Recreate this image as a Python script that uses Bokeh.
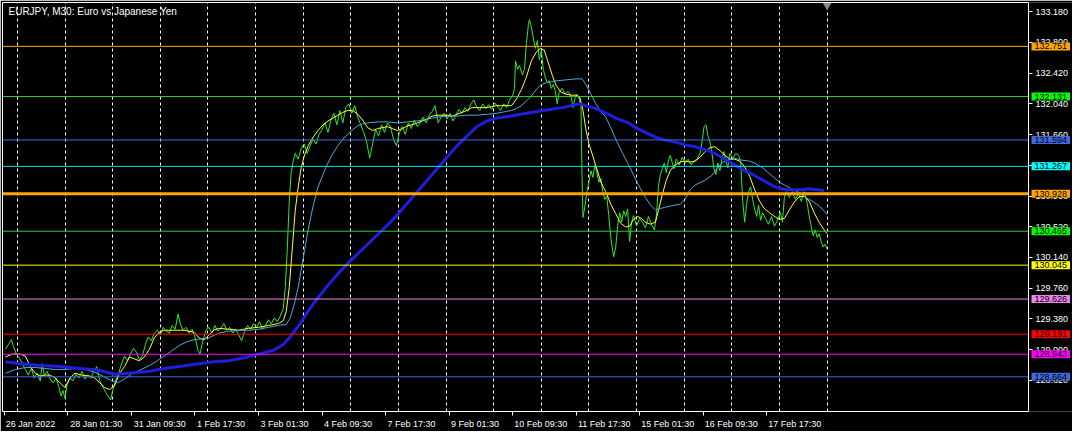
from bokeh.plotting import figure
from bokeh.models import (Range1d, FixedTicker, PrintfTickFormatter, Label,
                          ColumnDataSource, LinearAxis)
from bokeh.embed import file_html
from bokeh.resources import INLINE

chart_title = "EURJPY, M30:  Euro vs Japanese Yen"

# ---- close price (M30 bars, sampled) ----
close_bar = [1, 4, 7, 9, 12, 15, 18, 21, 24, 27, 30, 33, 36, 38, 40, 43, 46, 49, 52, 55, 57, 59, 61, 63, 66, 69, 72, 75, 78, 81, 84, 87, 90, 93, 96, 99, 102, 105, 107, 109, 112, 115, 118, 121, 124, 127, 130, 133, 136, 139, 142, 145, 148, 151, 154, 157, 160, 163, 166, 169, 172, 175, 177, 180, 183, 186, 189, 192, 195, 197, 200, 203, 206, 209, 212, 215, 218, 221, 224, 227, 230, 233, 236, 239, 242, 245, 248, 251, 254, 257, 260, 263, 266, 269, 272, 275, 278, 281, 283, 285, 287, 289, 291, 293, 296, 299, 302, 305, 308, 311, 314, 317, 320, 323, 326, 329, 332, 335, 338, 341, 344, 347, 350, 353, 356, 359, 362, 365, 368, 371, 374, 377, 380, 383, 386, 389, 392, 395, 398, 401, 404, 407, 410, 413, 416, 419, 422, 425, 428, 431, 434, 437, 440, 443, 446, 449, 452, 455, 458, 461, 464, 467, 470, 473, 476, 479, 482, 485, 488, 491, 494, 497, 500, 503, 506, 509, 512, 514, 515, 517, 519, 522, 524, 526, 528, 529, 531, 533, 535, 537, 539, 541, 543, 545, 547, 549, 551, 553, 555, 557, 559, 562, 565, 568, 571, 573, 575, 577, 579, 581, 582, 583, 585, 587, 589, 591, 593, 595, 597, 599, 601, 603, 605, 607, 609, 611, 613, 614, 616, 618, 620, 622, 624, 626, 628, 630, 632, 634, 637, 640, 643, 646, 649, 652, 655, 657, 659, 661, 663, 665, 667, 669, 671, 673, 675, 677, 680, 683, 686, 689, 692, 695, 698, 701, 703, 705, 707, 709, 711, 713, 715, 717, 719, 721, 723, 725, 727, 729, 731, 734, 737, 740, 742, 744, 746, 748, 750, 752, 754, 756, 758, 760, 762, 764, 767, 770, 773, 776, 779, 782, 784, 786, 788, 791, 794, 797, 800, 803, 806, 809, 811, 813, 815, 817, 819, 821, 823, 825, 827, 829]
close_price = [129.004, 129.063, 129.122, 129.039, 128.945, 128.897, 128.826, 128.755, 128.685, 128.767, 128.649, 128.708, 128.614, 128.826, 128.685, 128.732, 128.637, 128.590, 128.649, 128.531, 128.425, 128.495, 128.401, 128.566, 128.649, 128.614, 128.696, 128.649, 128.732, 128.637, 128.685, 128.649, 128.732, 128.791, 128.614, 128.543, 128.472, 128.413, 128.377, 128.495, 128.614, 128.708, 128.826, 128.921, 128.862, 128.945, 129.016, 128.968, 128.874, 128.921, 129.063, 129.157, 129.110, 129.205, 129.240, 129.181, 129.276, 129.228, 129.205, 129.299, 129.252, 129.441, 129.323, 129.240, 129.276, 129.205, 129.252, 129.157, 128.992, 128.945, 129.110, 129.240, 129.276, 129.205, 129.299, 129.228, 129.264, 129.323, 129.240, 129.276, 129.205, 129.252, 129.181, 129.110, 129.228, 129.299, 129.252, 129.323, 129.276, 129.346, 129.252, 129.299, 129.370, 129.323, 129.394, 129.346, 129.417, 129.512, 129.772, 130.245, 130.836, 131.190, 131.332, 131.427, 131.356, 131.486, 131.545, 131.427, 131.521, 131.604, 131.545, 131.663, 131.722, 131.805, 131.687, 131.840, 131.923, 131.781, 131.959, 131.805, 131.994, 132.041, 131.923, 132.018, 131.876, 131.781, 131.687, 131.569, 131.368, 131.545, 131.722, 131.640, 131.781, 131.687, 131.805, 131.758, 131.604, 131.521, 131.687, 131.758, 131.663, 131.805, 131.734, 131.840, 131.758, 131.805, 131.876, 131.805, 131.900, 131.947, 132.018, 131.805, 131.876, 131.923, 131.852, 131.923, 131.829, 131.900, 131.971, 131.923, 131.994, 131.947, 132.041, 132.089, 131.994, 131.959, 132.041, 131.982, 132.030, 131.971, 132.053, 132.006, 131.959, 132.041, 131.994, 132.089, 132.136, 132.231, 132.573, 132.467, 132.514, 132.396, 132.467, 132.786, 133.022, 133.082, 132.987, 132.845, 132.727, 132.822, 132.585, 132.703, 132.467, 132.372, 132.301, 132.325, 132.231, 132.278, 132.207, 132.041, 132.183, 132.231, 132.160, 132.195, 132.136, 131.994, 132.112, 132.160, 132.112, 132.018, 131.190, 130.635, 130.777, 130.954, 131.072, 131.214, 131.131, 131.285, 131.190, 131.072, 131.119, 130.954, 130.859, 130.895, 130.658, 130.387, 130.221, 130.150, 130.268, 130.540, 130.694, 130.576, 130.718, 130.647, 130.741, 130.339, 130.576, 130.658, 130.528, 130.623, 130.576, 130.505, 130.647, 130.552, 130.481, 130.658, 131.013, 131.167, 131.238, 131.309, 131.190, 131.332, 131.403, 131.309, 131.238, 131.356, 131.285, 131.380, 131.309, 131.356, 131.285, 131.332, 131.356, 131.427, 131.569, 131.758, 131.781, 131.640, 131.569, 131.427, 131.238, 131.167, 131.309, 131.214, 131.356, 131.450, 131.332, 131.249, 131.427, 131.368, 131.427, 131.403, 131.309, 130.836, 130.576, 130.812, 130.954, 131.013, 130.859, 130.741, 130.647, 130.789, 130.599, 130.694, 130.623, 130.552, 130.647, 130.528, 130.599, 130.694, 130.576, 130.883, 130.954, 130.883, 130.954, 130.859, 130.930, 130.836, 130.954, 130.812, 130.647, 130.528, 130.410, 130.481, 130.387, 130.434, 130.339, 130.268, 130.304, 130.245]

# ---- fast moving average (yellow) ----
fast_bar = [1, 8, 16, 21, 26, 31, 36, 41, 46, 51, 56, 61, 66, 71, 78, 86, 91, 96, 101, 106, 111, 116, 121, 126, 131, 136, 141, 146, 151, 156, 161, 171, 181, 191, 196, 201, 206, 211, 216, 226, 236, 246, 256, 266, 276, 281, 284, 287, 290, 293, 296, 299, 302, 306, 311, 316, 321, 326, 331, 336, 341, 346, 351, 356, 361, 366, 371, 376, 381, 386, 391, 396, 401, 406, 411, 416, 421, 426, 431, 436, 441, 446, 451, 456, 461, 466, 471, 476, 481, 486, 491, 496, 501, 506, 511, 516, 521, 526, 531, 536, 540, 544, 548, 552, 556, 561, 566, 571, 576, 580, 583, 586, 589, 593, 596, 601, 606, 611, 616, 621, 626, 630, 634, 638, 642, 646, 651, 656, 659, 663, 667, 671, 676, 681, 686, 691, 696, 701, 706, 711, 716, 721, 726, 731, 736, 741, 746, 751, 756, 761, 766, 771, 776, 781, 786, 791, 796, 801, 806, 811, 816, 821, 826, 829]
fast_ma = [128.909, 128.945, 128.945, 128.921, 128.791, 128.708, 128.673, 128.685, 128.685, 128.649, 128.590, 128.531, 128.649, 128.708, 128.685, 128.673, 128.649, 128.590, 128.531, 128.507, 128.555, 128.708, 128.791, 128.909, 128.885, 128.862, 128.909, 129.004, 129.146, 129.216, 129.240, 129.240, 129.240, 129.216, 129.146, 129.122, 129.181, 129.240, 129.264, 129.252, 129.240, 129.264, 129.276, 129.299, 129.323, 129.358, 129.476, 129.772, 130.245, 130.718, 131.013, 131.249, 131.391, 131.521, 131.628, 131.710, 131.781, 131.829, 131.864, 131.900, 131.935, 131.959, 131.959, 131.911, 131.840, 131.746, 131.710, 131.734, 131.746, 131.758, 131.734, 131.710, 131.734, 131.770, 131.781, 131.805, 131.829, 131.852, 131.888, 131.900, 131.900, 131.900, 131.888, 131.911, 131.935, 131.959, 131.994, 131.994, 131.994, 131.994, 132.006, 132.018, 132.018, 132.018, 132.018, 132.101, 132.219, 132.372, 132.573, 132.680, 132.727, 132.703, 132.550, 132.396, 132.266, 132.183, 132.160, 132.148, 132.148, 132.112, 131.959, 131.722, 131.545, 131.391, 131.273, 131.072, 130.954, 130.800, 130.682, 130.564, 130.517, 130.528, 130.611, 130.647, 130.623, 130.576, 130.552, 130.576, 130.718, 130.919, 131.096, 131.214, 131.285, 131.320, 131.332, 131.320, 131.332, 131.380, 131.450, 131.498, 131.510, 131.462, 131.403, 131.356, 131.356, 131.332, 131.261, 131.143, 130.978, 130.836, 130.741, 130.694, 130.647, 130.611, 130.623, 130.729, 130.824, 130.895, 130.895, 130.836, 130.694, 130.576, 130.481, 130.434]

# ---- medium moving average (light blue) ----
mid_bar = [1, 11, 21, 31, 41, 51, 61, 71, 81, 91, 101, 108, 114, 121, 128, 136, 146, 154, 161, 168, 176, 184, 191, 199, 206, 216, 226, 236, 246, 256, 266, 276, 284, 288, 292, 296, 301, 306, 311, 316, 321, 326, 331, 336, 341, 346, 351, 356, 361, 366, 376, 386, 396, 406, 416, 426, 436, 446, 456, 466, 476, 486, 496, 506, 511, 516, 521, 526, 531, 536, 541, 546, 551, 556, 566, 576, 582, 586, 591, 596, 601, 606, 611, 616, 623, 630, 636, 641, 646, 651, 656, 663, 671, 681, 686, 691, 696, 706, 713, 718, 723, 729, 736, 743, 751, 756, 764, 773, 781, 786, 793, 801, 809, 816, 821, 826, 829]
mid_ma = [128.708, 128.755, 128.779, 128.779, 128.767, 128.755, 128.755, 128.767, 128.755, 128.720, 128.661, 128.614, 128.590, 128.637, 128.696, 128.744, 128.803, 128.862, 128.921, 128.980, 129.051, 129.098, 129.122, 129.134, 129.146, 129.205, 129.228, 129.240, 129.240, 129.252, 129.276, 129.299, 129.311, 129.394, 129.559, 129.772, 130.127, 130.481, 130.777, 131.013, 131.167, 131.309, 131.427, 131.521, 131.604, 131.663, 131.722, 131.770, 131.793, 131.805, 131.817, 131.817, 131.805, 131.817, 131.829, 131.852, 131.876, 131.888, 131.888, 131.900, 131.900, 131.911, 131.923, 131.947, 131.959, 131.982, 132.018, 132.077, 132.136, 132.219, 132.278, 132.301, 132.313, 132.325, 132.337, 132.349, 132.349, 132.278, 132.160, 132.041, 131.947, 131.876, 131.746, 131.604, 131.427, 131.261, 131.108, 130.989, 130.883, 130.789, 130.729, 130.753, 130.777, 130.800, 130.859, 130.978, 131.037, 131.096, 131.155, 131.238, 131.309, 131.356, 131.368, 131.344, 131.332, 131.309, 131.249, 131.155, 131.072, 131.037, 130.989, 130.942, 130.871, 130.824, 130.777, 130.718, 130.670]

# ---- slow moving average (thick blue) ----
slow_bar = [1, 16, 36, 56, 76, 96, 111, 126, 146, 161, 176, 196, 211, 226, 241, 256, 271, 281, 288, 293, 298, 306, 316, 326, 336, 346, 356, 366, 376, 386, 396, 406, 416, 426, 436, 446, 456, 466, 476, 486, 496, 509, 526, 543, 556, 563, 571, 579, 586, 596, 609, 616, 629, 636, 646, 656, 666, 676, 686, 696, 706, 716, 726, 736, 746, 756, 766, 776, 783, 789, 796, 803, 811, 816, 821, 826]
slow_ma = [128.850, 128.826, 128.803, 128.791, 128.767, 128.744, 128.696, 128.708, 128.732, 128.767, 128.791, 128.826, 128.850, 128.862, 128.897, 128.945, 128.992, 129.063, 129.157, 129.240, 129.323, 129.476, 129.642, 129.796, 129.937, 130.067, 130.186, 130.304, 130.422, 130.540, 130.670, 130.812, 130.954, 131.096, 131.238, 131.380, 131.521, 131.640, 131.758, 131.829, 131.864, 131.888, 131.923, 131.959, 131.982, 131.994, 132.018, 132.041, 132.018, 131.982, 131.911, 131.864, 131.805, 131.746, 131.687, 131.628, 131.592, 131.569, 131.533, 131.510, 131.474, 131.427, 131.356, 131.285, 131.214, 131.155, 131.084, 131.013, 130.989, 130.978, 130.978, 130.978, 130.989, 130.978, 130.978, 130.966]

# ---- horizontal price levels ----
level_price = [132.751, 132.131, 131.594, 131.267, 130.928, 130.465, 130.045, 129.626, 129.191, 128.943, 128.664]

# ---- axes ----
price_ticks = [133.180, 132.800, 132.420, 132.040, 131.660, 131.280, 130.900,
               130.520, 130.140, 129.760, 129.380, 129.000, 128.620]
date_tick_bars = [0, 64, 128, 192, 256, 320, 384, 448, 512, 576, 640, 704, 768]
date_tick_labels = ["26 Jan 2022", "28 Jan 01:30", "31 Jan 09:30", "1 Feb 17:30",
                    "3 Feb 01:30", "4 Feb 09:30", "7 Feb 17:30", "9 Feb 01:30",
                    "10 Feb 09:30", "11 Feb 17:30", "15 Feb 01:30", "16 Feb 09:30",
                    "17 Feb 17:30"]

# ---- styles ----
level_line_color = ["#FFA500", "#32CD32", "#4169E1", "#00E5F0", "#FFA500", "#32CD32",
                    "#FFFF00", "#EE82EE", "#FF0000", "#FF00FF", "#4169E1"]
level_box_color = ["#FFA500", "#00FF00", "#4169E1", "#00FFFF", "#FFA500", "#00FF00",
                   "#FFFF00", "#EE82EE", "#FF0000", "#FF00FF", "#4169E1"]
level_line_width = [1, 1, 1, 1, 3, 1, 1, 1, 1, 1, 1]
FONT = "Liberation Sans"

# chart area in bars, plus a price-scale strip on the right inside the frame
X0, X1 = -2, 1032
CHART_PX, SCALE_PX = 1026, 44
XR = X1 + (X1 - X0) * SCALE_PX / CHART_PX
Y0, Y1 = 128.235, 133.294

p = figure(width=1072, height=431, output_backend="svg", toolbar_location=None,
           x_range=Range1d(X0, XR), y_range=Range1d(Y0, Y1),
           y_axis_location="right",
           background_fill_color="black", border_fill_color="black",
           min_border_left=2, min_border_top=2, min_border_right=0, min_border_bottom=14)
p.outline_line_color = None

# vertical dashed grid every 48 bars
p.xgrid.ticker = FixedTicker(ticks=[13 + 48 * k for k in range(18)])
p.xgrid.grid_line_color = "white"
p.xgrid.grid_line_dash = "3 3"
p.xgrid.grid_line_width = 1
p.ygrid.visible = False

# right price scale drawn at the end of the chart area
ya = p.yaxis[0]
ya.fixed_location = X1
ya.ticker = FixedTicker(ticks=price_ticks)
ya.formatter = PrintfTickFormatter(format="%.3f")
ya.axis_line_color = "white"
ya.major_tick_line_color = "white"
ya.major_tick_out = 4
ya.major_tick_in = 0
ya.minor_tick_line_color = None
ya.major_label_text_color = "white"
ya.major_label_text_font = FONT
ya.major_label_text_font_size = "9px"
ya.major_label_standoff = 3

# bottom date axis: labels left-aligned to their tick marks (MT5 style)
label_centers = [round(b + 2 + 2.2 * len(t), 1) for b, t in zip(date_tick_bars, date_tick_labels)]
xa = p.xaxis[0]
xa.bounds = (X0, X1)
xa.ticker = FixedTicker(ticks=label_centers, minor_ticks=date_tick_bars)
xa.major_label_overrides = {c: t for c, t in zip(label_centers, date_tick_labels)}
xa.axis_line_color = "white"
xa.major_tick_line_color = None
xa.major_tick_out = 0
xa.minor_tick_line_color = "white"
xa.minor_tick_out = 4
xa.minor_tick_in = 0
xa.major_label_text_color = "white"
xa.major_label_text_font = FONT
xa.major_label_text_font_size = "9px"
xa.major_label_standoff = 3

# plain border lines on the left and top of the chart area
for side in ("left", "above"):
    ax = LinearAxis(ticker=FixedTicker(ticks=[]), axis_line_color="white",
                    major_tick_line_color=None, minor_tick_line_color=None,
                    major_tick_out=0, minor_tick_out=0, major_label_standoff=0,
                    major_label_text_font_size="0px")
    if side == "above":
        ax.bounds = (X0, X1)
    p.add_layout(ax, side)

# series
p.line(close_bar, close_price, line_color="#2EE82E", line_width=1)
p.line(fast_bar, fast_ma, line_color="#FFFF30", line_width=1)
p.line(mid_bar, mid_ma, line_color="#48A8E0", line_width=1)
p.line(slow_bar, slow_ma, line_color="#1E1EDC", line_width=3)

# horizontal levels across the chart area
lev_src = ColumnDataSource(dict(y=level_price, color=level_line_color, width=level_line_width))
p.segment(x0=X0, x1=X1, y0="y", y1="y", line_color="color", line_width="width", source=lev_src)

# price boxes on the price scale
for lv, bc in zip(level_price, level_box_color):
    p.add_layout(Label(x=X1, y=lv, x_units="data", y_units="data", x_offset=3,
                       text=f"{lv:.3f}", text_align="left", text_baseline="middle",
                       text_font=FONT, text_font_size="9px", text_color="black",
                       background_fill_color=bc, padding=(3, 1)))

# chart title inside the chart
p.add_layout(Label(x=X0, y=Y1, x_units="data", y_units="data", x_offset=6, y_offset=-9,
                   text=chart_title, text_align="left", text_baseline="middle",
                   text_font=FONT, text_font_size="10px", text_color="white"))

# chart-shift marker
p.scatter([close_bar[-1]], [Y1], marker="inverted_triangle", size=12,
          fill_color="#8C8C8C", line_color="#8C8C8C")

open("out.html", "w").write(file_html(p, INLINE))
